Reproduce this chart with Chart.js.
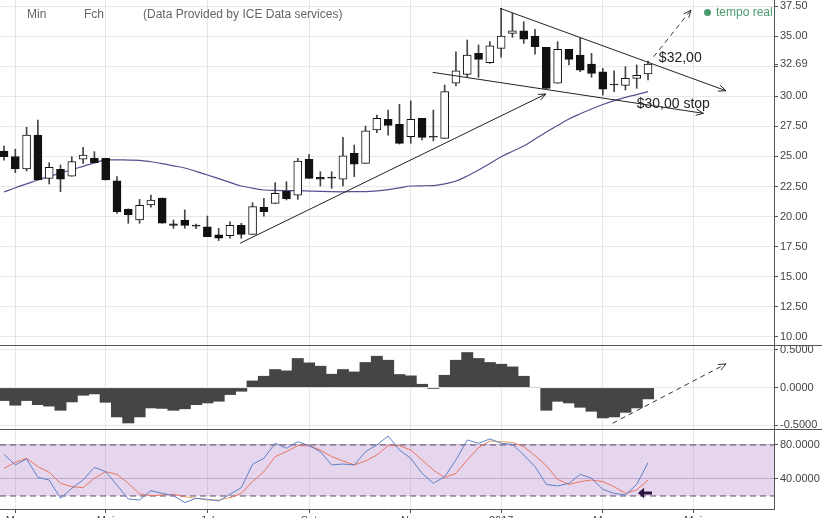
<!DOCTYPE html>
<html>
<head>
<meta charset="utf-8">
<script src="https://cdn.jsdelivr.net/npm/chart.js@4.4.1/dist/chart.umd.min.js"></script>
<style>
html, body { margin: 0; padding: 0; overflow: hidden; background: #fff; }
#wrap { position: relative; width: 822px; height: 518px; overflow: hidden; }
#c { position: absolute; left: 0; top: 0; }
.hd { position: absolute; top: 7px; font: 12px "Liberation Sans", Arial, sans-serif; line-height: 14px; color: #666; white-space: nowrap; }
.live { position: absolute; top: 5px; left: 704px; font: 12px "Liberation Sans", Arial, sans-serif; line-height: 14px; color: #4b9a6e; white-space: nowrap; }
.live i { display: inline-block; width: 7px; height: 7px; border-radius: 50%; background: #4b9a6e; margin-right: 5px; }
</style>
</head>
<body>
<div id="wrap">
<canvas id="c" width="822" height="530"></canvas>
<div class="hd" style="left:27px">Min</div>
<div class="hd" style="left:84px">Fch</div>
<div class="hd" style="left:143px">(Data Provided by ICE Data services)</div>
<div class="live"><i></i>tempo real</div>
</div>
<script>
// weekly candles, index 0 = last week of Feb 2016
var opens  = [25.45, 25.00, 23.96, 26.78, 23.18, 23.93, 23.35, 24.77, 24.85, 24.85,
              22.98, 20.63, 19.71, 20.96, 21.54, 19.39, 19.71, 19.22, 19.15, 18.47,
              18.41, 19.27, 18.52, 20.77, 21.10, 22.10, 21.77, 24.77, 23.27, 23.22,
              23.10, 25.26, 24.43, 27.20, 28.09, 27.67, 26.64, 28.17, 26.62, 26.51,
              31.09, 31.83, 33.58, 32.80, 34.00, 35.24, 35.46, 35.02, 34.08, 31.09,
              33.91, 33.44, 32.69, 32.05, 30.97, 30.92, 31.50, 31.86];
var highs  = [25.87, 25.60, 27.43, 28.03, 24.48, 24.29, 24.98, 25.76, 25.40, 24.85,
              23.32, 20.63, 21.43, 21.79, 21.54, 19.71, 20.55, 19.38, 20.04, 19.02,
              19.57, 19.44, 21.15, 21.51, 22.82, 22.90, 24.85, 25.18, 23.73, 23.73,
              26.60, 25.95, 27.53, 28.45, 28.86, 29.34, 29.62, 28.17, 28.86, 30.94,
              33.71, 34.69, 34.27, 34.55, 37.33, 36.91, 36.21, 35.58, 34.08, 34.55,
              33.91, 34.83, 33.58, 32.33, 32.13, 32.47, 32.61, 32.94];
var lows   = [24.70, 23.65, 23.79, 23.04, 22.71, 22.07, 23.35, 24.43, 24.48, 23.04,
              20.27, 19.44, 19.44, 20.77, 19.44, 19.02, 19.02, 18.99, 18.32, 18.00,
              18.19, 18.19, 18.52, 20.04, 21.10, 21.38, 21.43, 23.18, 22.54, 22.35,
              22.54, 23.32, 24.43, 26.98, 26.78, 26.03, 26.09, 26.37, 26.30, 26.51,
              30.86, 31.59, 31.59, 32.75, 33.27, 34.91, 34.41, 33.52, 30.67, 31.09,
              32.61, 32.05, 31.59, 30.11, 30.39, 30.53, 30.67, 31.36];
var closes = [24.98, 23.96, 26.78, 23.04, 24.10, 23.12, 24.57, 25.12, 24.48, 23.04,
              20.41, 20.16, 20.94, 21.37, 19.44, 19.27, 19.27, 19.20, 18.32, 18.19,
              19.27, 18.52, 20.82, 20.41, 21.93, 21.49, 24.62, 23.18, 23.10, 23.20,
              25.06, 24.35, 27.14, 28.17, 27.59, 26.09, 28.09, 26.59, 26.60, 30.39,
              32.13, 33.44, 33.08, 34.20, 35.02, 35.46, 34.77, 34.13, 30.67, 33.91,
              33.08, 32.19, 31.92, 30.59, 30.95, 31.50, 31.75, 32.69];
var maValues = [22.04, 22.40, 22.72, 23.04, 23.33, 23.62, 23.90, 24.18, 24.46, 24.71,
                24.72, 24.70, 24.68, 24.56, 24.40, 24.22, 24.04, 23.76, 23.46, 23.15,
                22.84, 22.54, 22.36, 22.21, 22.17, 22.16, 22.15, 22.12, 22.09, 22.07,
                22.06, 22.07, 22.08, 22.14, 22.24, 22.38, 22.54, 22.56, 22.57, 22.72,
                22.96, 23.38, 23.87, 24.42, 24.98, 25.43, 25.87, 26.45, 27.03, 27.58,
                28.12, 28.55, 28.95, 29.32, 29.65, 29.92, 30.15, 30.39];
var macdHist = [-0.176, -0.238, -0.176, -0.230, -0.250, -0.305, -0.194, -0.106, -0.088, -0.199,
                -0.393, -0.473, -0.393, -0.274, -0.280, -0.305, -0.285, -0.230, -0.208, -0.185,
                -0.097, -0.053, 0.093, 0.155, 0.244, 0.226, 0.390, 0.332, 0.288, 0.182,
                0.244, 0.212, 0.337, 0.420, 0.367, 0.178, 0.160, 0.049, -0.017, 0.168,
                0.367, 0.469, 0.390, 0.337, 0.314, 0.279, 0.155, 0.005, -0.305, -0.186,
                -0.208, -0.265, -0.318, -0.406, -0.393, -0.332, -0.274, -0.154];
var stochK = [69.0, 56.5, 63.5, 42.0, 38.8, 17.3, 29.0, 38.8, 53.7, 48.6,
              32.9, 16.5, 15.3, 26.3, 23.1, 20.4, 12.2, 17.3, 16.1, 14.1,
              22.0, 29.8, 57.3, 64.3, 82.0, 76.1, 83.9, 79.2, 72.2, 56.5,
              57.6, 56.5, 72.2, 80.0, 90.6, 74.1, 64.3, 46.7, 34.9, 42.7,
              62.4, 85.9, 82.0, 87.1, 82.0, 80.8, 68.2, 54.5, 33.7, 31.8,
              34.9, 45.5, 40.8, 27.8, 23.1, 21.2, 33.7, 59.2];
var stochD = [52.5, 59.6, 64.3, 54.5, 47.8, 34.9, 31.0, 29.8, 40.8, 48.6,
              45.5, 34.9, 22.4, 20.4, 21.2, 22.0, 19.2, 17.3, 15.3, 15.3,
              18.0, 23.1, 36.9, 48.6, 66.3, 72.2, 79.2, 79.2, 74.1, 66.3,
              61.2, 56.5, 61.2, 68.2, 79.2, 79.2, 74.1, 62.4, 50.6, 41.6,
              46.7, 62.4, 76.9, 84.7, 83.9, 83.1, 78.0, 67.5, 55.7, 39.6,
              33.7, 36.9, 38.8, 36.9, 31.0, 23.1, 27.1, 38.8];

var monthTickIdx = [1, 9, 18, 27, 36, 44, 53, 61];
var monthTickLabels = ['Mar', 'Mai', 'Jul', 'Set', 'Nov', '2017', 'Mar', 'Mai'];
var priceTicks = [10, 12.5, 15, 17.5, 20, 22.5, 25, 27.5, 30, 32.5, 35, 37.5];
var lastPrice = 32.69;
var macdTicks = [-0.5, 0, 0.5];
var stochTicks = [40, 80];
var stochLevels = [80, 20];

// drawn lines, [week index, value]
var supportLine = [[20.9, 17.78], [47.96, 30.2]];
var upperWedge = [[43.9, 37.33], [63.9, 30.47]];
var lowerWedge = [[37.94, 32.0], [61.9, 28.59]];
var breakoutArrow = [[57.5, 33.3], [60.8, 37.18]];
var macdArrow = [[53.87, -0.472], [63.9, 0.314]];
var stochMarker = [[57.35, 23.5], [56.55, 23.5]];
var priceNotes = [
	{text: '$32,00', x: 57.96, y: 33.15},
	{text: '$30,00 stop', x: 56.0, y: 29.36}
];

var X_MIN = -0.354, X_MAX = 68.15;
var FONT = '"Liberation Sans", Arial, sans-serif';

function pts(arr) {
	return arr.map(function(v, i) { return {x: i, y: v}; });
}

function seg(p) {
	return p.map(function(q) { return {x: q[0], y: q[1]}; });
}

function trend(p, axis, dash, head, color, width) {
	return {
		type: 'line', data: seg(p), yAxisID: axis,
		borderColor: color || '#222', borderWidth: width || 1, borderDash: dash || [],
		pointRadius: 0, fill: false, order: 0, arrowHead: head
	};
}

var wicks = lows.map(function(l, i) { return {x: i, y: [l, highs[i]]}; });
var bodies = opens.map(function(o, i) {
	return {x: i, y: [Math.min(o, closes[i]), Math.max(o, closes[i])]};
});
var bodyColors = opens.map(function(o, i) { return closes[i] >= o ? '#ffffff' : '#111111'; });

var datasets = [
	// stochastic band 20..80
	{type: 'line', data: [{x: X_MIN, y: stochLevels[0]}, {x: X_MAX, y: stochLevels[0]}], yAxisID: 'yS',
		borderColor: '#5a4a6a', borderWidth: 1, borderDash: [6, 4], pointRadius: 0,
		fill: '+1', backgroundColor: 'rgba(180,130,200,0.33)', order: 20},
	{type: 'line', data: [{x: X_MIN, y: stochLevels[1]}, {x: X_MAX, y: stochLevels[1]}], yAxisID: 'yS',
		borderColor: '#5a4a6a', borderWidth: 1, borderDash: [6, 4], pointRadius: 0,
		fill: false, order: 19},
	{type: 'bar', data: pts(macdHist), yAxisID: 'yM', backgroundColor: '#454545',
		barPercentage: 1.06, categoryPercentage: 1, grouped: false, order: 15},
	{type: 'line', data: pts(maValues), yAxisID: 'y', borderColor: '#52528f', borderWidth: 1.2,
		pointRadius: 0, cubicInterpolationMode: 'monotone', fill: false, order: 8},
	{type: 'bar', data: wicks, yAxisID: 'y', backgroundColor: '#444', barThickness: 1,
		grouped: false, order: 6},
	{type: 'bar', data: bodies, yAxisID: 'y', backgroundColor: bodyColors, borderColor: '#111',
		borderWidth: 1, borderSkipped: false, barThickness: 8, minBarLength: 1, grouped: false, order: 5},
	{type: 'line', data: pts(stochD), yAxisID: 'yS', borderColor: '#e8735f', borderWidth: 1,
		pointRadius: 0, fill: false, order: 4,
		segment: {
			borderColor: function(c) {
				var a = c.p0.parsed.y, b = c.p1.parsed.y;
				if ((a > 80 && b > 80) || (a < 20 && b < 20)) return '#e0a860';
				return undefined;
			}
		}},
	{type: 'line', data: pts(stochK), yAxisID: 'yS', borderColor: '#5f80c4', borderWidth: 1,
		pointRadius: 0, fill: false, order: 3},
	trend(supportLine, 'y', null, 'open'),
	trend(upperWedge, 'y', null, 'open'),
	trend(lowerWedge, 'y', null, 'open'),
	trend(breakoutArrow, 'y', [5, 4], 'open', '#333'),
	trend(macdArrow, 'yM', [5, 4], 'open', '#333'),
	trend(stochMarker, 'yS', null, 'solid', '#2a1640', 3)
];

function drawArrowHead(ctx, points, ds) {
	var a = points[points.length - 2], b = points[points.length - 1];
	var ang = Math.atan2(b.y - a.y, b.x - a.x);
	ctx.save();
	ctx.setLineDash([]);
	ctx.strokeStyle = ds.borderColor;
	ctx.fillStyle = ds.borderColor;
	ctx.lineWidth = 1;
	ctx.beginPath();
	if (ds.arrowHead == 'solid') {
		var tx = b.x + 5 * Math.cos(ang), ty = b.y + 5 * Math.sin(ang);
		ctx.moveTo(tx, ty);
		ctx.lineTo(tx - 8 * Math.cos(ang - 0.7), ty - 8 * Math.sin(ang - 0.7));
		ctx.lineTo(tx - 8 * Math.cos(ang + 0.7), ty - 8 * Math.sin(ang + 0.7));
		ctx.closePath();
		ctx.fill();
	} else {
		ctx.moveTo(b.x - 8 * Math.cos(ang - 0.4), b.y - 8 * Math.sin(ang - 0.4));
		ctx.lineTo(b.x, b.y);
		ctx.lineTo(b.x - 8 * Math.cos(ang + 0.4), b.y - 8 * Math.sin(ang + 0.4));
		ctx.stroke();
	}
	ctx.restore();
}

var overlayPlugin = {
	id: 'overlay',
	afterDraw: function(chart) {
		var ctx = chart.ctx;
		chart.data.datasets.forEach(function(ds, i) {
			if (ds.arrowHead) drawArrowHead(ctx, chart.getDatasetMeta(i).data, ds);
		});

		var sx = chart.scales.x, sy = chart.scales.y;
		ctx.save();
		ctx.font = '14px ' + FONT;
		ctx.fillStyle = '#222';
		ctx.textBaseline = 'middle';
		priceNotes.forEach(function(n) {
			ctx.fillText(n.text, sx.getPixelForValue(n.x), sy.getPixelForValue(n.y));
		});

		// panel separators
		ctx.strokeStyle = '#555';
		ctx.lineWidth = 1;
		[chart.scales.yM.top, chart.scales.yS.top].forEach(function(y) {
			y = Math.round(y) + 0.5;
			ctx.beginPath();
			ctx.moveTo(0, y);
			ctx.lineTo(chart.width, y);
			ctx.stroke();
		});
		ctx.restore();
	}
};

function yAxis(weight, min, max, ticks, label, gridColor) {
	return {
		position: 'right', stack: 'panels', stackWeight: weight, min: min, max: max, offset: false,
		grid: {color: gridColor || '#e8e8e8', tickColor: '#555', tickLength: 4},
		border: {color: '#555'},
		ticks: {autoSkip: false, padding: 2, color: '#444', font: {family: FONT, size: 11}, callback: label},
		afterBuildTicks: function(s) { s.ticks = ticks.map(function(v) { return {value: v}; }); },
		afterFit: function(s) { s.width = 48; s.paddingTop = 0; s.paddingBottom = 0; }
	};
}

var mainTicks = priceTicks.concat([lastPrice]).sort(function(a, b) { return a - b; });
var yMain = yAxis(345, 9.31, 38.02, mainTicks, function(v) {
	if (v === lastPrice) return lastPrice.toFixed(2);
	if (Math.abs(v - lastPrice) < 0.5) return '';
	return v.toFixed(2);
}, function(c) {
	return c.tick && c.tick.value === lastPrice ? 'rgba(0,0,0,0)' : '#e8e8e8';
});
var yMacd = yAxis(84, -0.548, 0.564, macdTicks, function(v) { return v.toFixed(4); });
var yStoch = yAxis(80, 4.7, 98.8, stochTicks, function(v) { return v.toFixed(4); }, '#c9bcd2');

new Chart(document.getElementById('c'), {
	type: 'bar',
	data: {datasets: datasets},
	plugins: [overlayPlugin],
	options: {
		responsive: false,
		animation: false,
		layout: {padding: 0},
		plugins: {legend: {display: false}, tooltip: {enabled: false}},
		scales: {
			x: {
				type: 'linear', position: 'bottom', min: X_MIN, max: X_MAX, offset: false,
				grid: {offset: false, color: '#e6e6e6', tickColor: '#555', tickLength: 4},
				border: {color: '#555'},
				ticks: {
					autoSkip: false, maxRotation: 0, padding: 1, color: '#444', font: {family: FONT, size: 11},
					callback: function(v) {
						var k = monthTickIdx.indexOf(v);
						return k < 0 ? '' : monthTickLabels[k];
					}
				},
				afterBuildTicks: function(s) { s.ticks = monthTickIdx.map(function(v) { return {value: v}; }); },
				afterFit: function(s) { s.height = 21; s.paddingLeft = 0; s.paddingRight = 0; }
			},
			y: yMain,
			yM: yMacd,
			yS: yStoch
		}
	}
});
</script>
</body>
</html>
